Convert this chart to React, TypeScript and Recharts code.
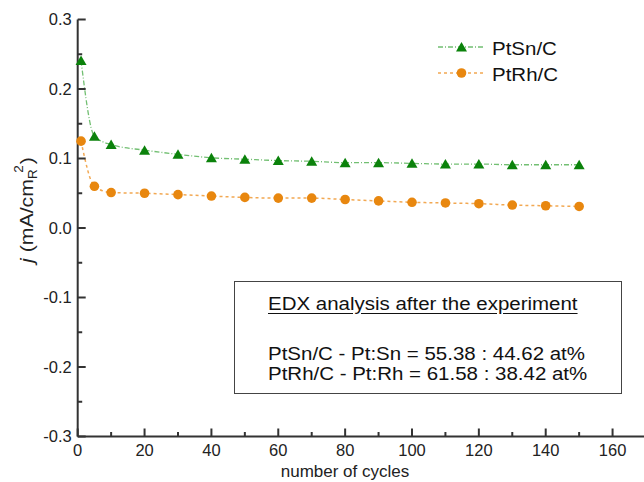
import { LineChart, Line, XAxis, YAxis, Label } from 'recharts';

const cycles = [1, 5, 10, 20, 30, 40, 50, 60, 70, 80, 90, 100, 110, 120, 130, 140, 150];
const ptSn = [0.241, 0.132, 0.12, 0.112, 0.106, 0.101, 0.099, 0.097, 0.096, 0.094, 0.094, 0.093, 0.092, 0.092, 0.091, 0.091, 0.091];
const ptRh = [0.125, 0.06, 0.051, 0.05, 0.048, 0.046, 0.044, 0.043, 0.043, 0.041, 0.039, 0.037, 0.036, 0.035, 0.033, 0.032, 0.031];

const xTicks = [0, 10, 20, 30, 40, 50, 60, 70, 80, 90, 100, 110, 120, 130, 140, 150, 160, 170];
const yTicks = [-0.3, -0.25, -0.2, -0.15, -0.1, -0.05, 0, 0.05, 0.1, 0.15, 0.2, 0.25, 0.3];

const edxTitle = 'EDX analysis after the experiment';
const edxLines = ['PtSn/C - Pt:Sn = 55.38 : 44.62 at%', 'PtRh/C - Pt:Rh = 61.58 : 38.42 at%'];

const data = cycles.map((c, i) => ({ cycle: c, ptSn: ptSn[i], ptRh: ptRh[i] }));

const FONT = '"Liberation Sans", Arial, sans-serif';
const AXIS = '#333';
const GREEN = '#0b820b';
const GREEN_LINE = '#72bf72';
const ORANGE = '#e8870f';
const ORANGE_LINE = '#f2a852';
const STRETCH = 1.17;

const Triangle = ({ cx, cy, fill }: any) => (
    <polygon points={`${cx - 5.5},${cy + 4.5} ${cx + 5.5},${cy + 4.5} ${cx},${cy - 5}`} fill={fill} />
);

const TriangleDot = (props: any) => {
    if (props.cx == null || props.cy == null) return <g key={props.index} />;
    return <Triangle key={props.index} cx={props.cx} cy={props.cy} fill={GREEN} />;
};

const CircleDot = (props: any) => {
    if (props.cx == null || props.cy == null) return <g key={props.index} />;
    return <circle key={props.index} cx={props.cx} cy={props.cy} r={4.8} fill={ORANGE} />;
};

const XTick = ({ x, y, payload }: any) => {
    const v = payload.value;
    const major = v % 20 === 0;
    return (
        <g>
            <line x1={x} x2={x} y1={y} y2={y - (major ? 8 : 4.5)} stroke={AXIS} strokeWidth={2} />
            {major && (
                <text x={x} y={y + 19} textAnchor="middle" fontSize={16.5} fontFamily={FONT} fill="#222">
                    {v}
                </text>
            )}
        </g>
    );
};

const YTick = ({ x, y, payload }: any) => {
    const v = payload.value;
    const major = Math.abs(v * 10 - Math.round(v * 10)) < 1e-6;
    return (
        <g>
            <line x1={x} x2={x + (major ? 8 : 4.5)} y1={y} y2={y} stroke={AXIS} strokeWidth={2} />
            {major && (
                <text x={x - 6} y={y} dy="0.36em" textAnchor="end" fontSize={16.5} fontFamily={FONT} fill="#222">
                    {v.toFixed(1)}
                </text>
            )}
        </g>
    );
};

const YTitle = () => (
    <text
        transform="translate(33, 210) rotate(-90) scale(1.12, 1)"
        x={0}
        y={0}
        textAnchor="middle"
        fontSize={19}
        fontFamily={FONT}
        fill="#222"
    >
        <tspan fontStyle="italic">j</tspan>
        <tspan> (mA/cm</tspan>
        <tspan dy={4} fontSize={12}>R</tspan>
        <tspan dx={-3} dy={-14} fontSize={12}>2</tspan>
        <tspan dx={1} dy={10}>)</tspan>
    </text>
);

const XTitle = () => (
    <text x={345} y={477} textAnchor="middle" fontSize={17} fontFamily={FONT} fill="#222">
        number of cycles
    </text>
);

const legendItems = [
    { name: 'PtSn/C', line: GREEN_LINE, dash: '5 2 1 2', marker: 'triangle', cy: 47 },
    { name: 'PtRh/C', line: ORANGE_LINE, dash: '3 3', marker: 'circle', cy: 73 },
];

const stretchText = (text: string, left: number, baseline: number, underline = false) => (
    <div
        key={text}
        style={{
            position: 'absolute',
            left,
            top: baseline - 16,
            fontFamily: FONT,
            fontSize: 17.5,
            lineHeight: '20px',
            color: '#111',
            whiteSpace: 'nowrap',
            transform: `scaleX(${STRETCH})`,
            transformOrigin: 'left center',
            textDecoration: underline ? 'underline' : 'none',
            textUnderlineOffset: 3,
        }}
    >
        {text}
    </div>
);

const LegendBox = () => (
    <>
        <svg style={{ position: 'absolute', left: 0, top: 0 }} width={644} height={100}>
            {legendItems.map((it) => (
                <g key={it.name}>
                    <line x1={438} x2={484} y1={it.cy} y2={it.cy} stroke={it.line} strokeWidth={1.3} strokeDasharray={it.dash} />
                    {it.marker === 'triangle' ? (
                        <Triangle cx={461.5} cy={it.cy} fill={GREEN} />
                    ) : (
                        <circle cx={461.5} cy={it.cy} r={4.8} fill={ORANGE} />
                    )}
                </g>
            ))}
        </svg>
        {legendItems.map((it) => stretchText(it.name, 492, it.cy + 7.5))}
    </>
);

const App = () => {
    return (
        <div style={{ position: 'absolute', left: 0, top: 0, width: 644, height: 482, overflow: 'hidden', background: '#fff' }}>
            <LineChart width={646} height={482} data={data} margin={{ top: 19.5, right: 0, bottom: 0, left: 0 }}>
                <XAxis
                    dataKey="cycle"
                    type="number"
                    domain={[0, 170]}
                    ticks={xTicks}
                    interval={0}
                    height={45.5}
                    tickSize={0}
                    tickMargin={0}
                    tickLine={false}
                    tick={XTick}
                    axisLine={{ stroke: AXIS, strokeWidth: 2 }}
                >
                    <Label content={XTitle} />
                </XAxis>
                <YAxis
                    type="number"
                    domain={[-0.3, 0.3]}
                    ticks={yTicks}
                    interval={0}
                    width={77.7}
                    tickSize={0}
                    tickMargin={0}
                    tickLine={false}
                    tick={YTick}
                    axisLine={{ stroke: AXIS, strokeWidth: 2 }}
                >
                    <Label content={YTitle} />
                </YAxis>
                <Line
                    type="monotone"
                    dataKey="ptSn"
                    name="PtSn/C"
                    stroke={GREEN_LINE}
                    strokeWidth={1.3}
                    strokeDasharray="5 2 1 2"
                    dot={TriangleDot}
                    activeDot={false}
                    isAnimationActive={false}
                />
                <Line
                    type="monotone"
                    dataKey="ptRh"
                    name="PtRh/C"
                    stroke={ORANGE_LINE}
                    strokeWidth={1.5}
                    strokeDasharray="3 3"
                    dot={CircleDot}
                    activeDot={false}
                    isAnimationActive={false}
                />
            </LineChart>
            <LegendBox />
            <div
                style={{
                    position: 'absolute',
                    left: 234,
                    top: 281,
                    width: 388,
                    height: 113,
                    boxSizing: 'border-box',
                    border: '1.5px solid #444',
                    background: '#fff',
                }}
            />
            {stretchText(edxTitle, 268, 309.5, true)}
            {stretchText(edxLines[0], 268, 360)}
            {stretchText(edxLines[1], 268, 380)}
        </div>
    );
};

export default App;
